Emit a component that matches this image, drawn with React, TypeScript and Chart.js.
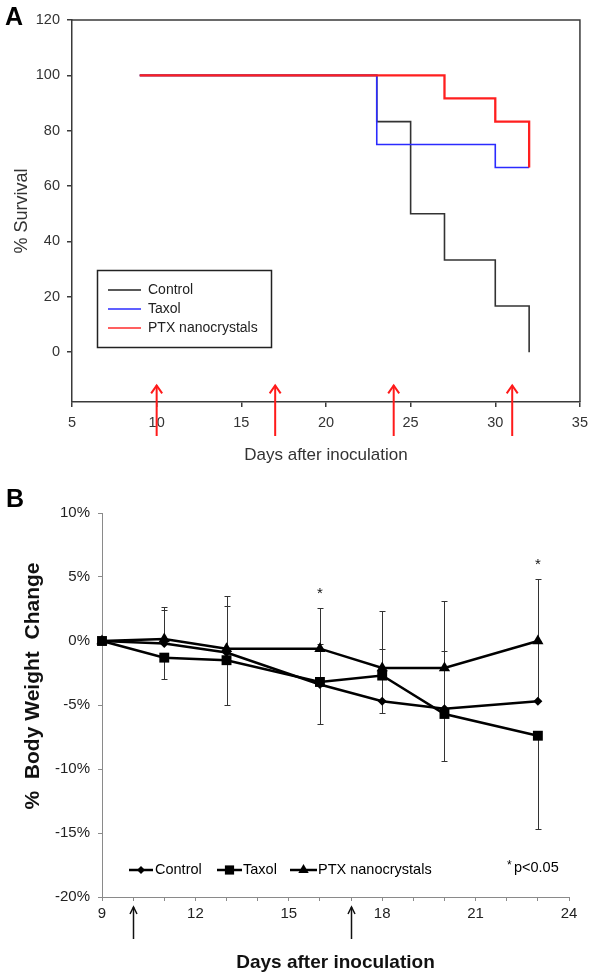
import React, { useEffect, useRef } from 'react';
import { Chart, registerables } from 'chart.js';

Chart.register(...registerables);

const FONT = '"Liberation Sans", Arial, Helvetica, sans-serif';

// ---------- Panel A : survival ----------
const survivalXTicks = [5, 10, 15, 20, 25, 30, 35];
const survivalYTicks = [0, 20, 40, 60, 80, 100, 120];
const controlDays = [9, 23, 25, 27, 30, 32];
const controlSurvival = [100, 83.3, 50, 33.3, 16.7, 0];
const taxolDays = [9, 23, 30, 32];
const taxolSurvival = [100, 75, 66.7, 66.7];
const ptxDays = [9, 27, 30, 32];
const ptxSurvival = [100, 91.7, 83.3, 66.7];
const dosingDaysA = [10, 17, 24, 31];
const legendLabelsA = ['Control', 'Taxol', 'PTX nanocrystals'];
const legendColorsA = ['#222222', '#2b2bff', '#ff2b2b'];

// ---------- Panel B : body weight ----------
const weightDays = [9, 11, 13, 16, 18, 20, 23];
const controlWeight = [0, -0.2, -0.9, -3.4, -4.7, -5.3, -4.7];
const taxolWeight = [0, -1.3, -1.5, -3.2, -2.7, -5.7, -7.4];
const ptxWeight = [0, 0.15, -0.6, -0.6, -2.1, -2.1, 0.0];
const controlErr = [0, 2.6, 3.65, 3.2, 4.1, 4.55, 4.7];
const taxolErr = [0, 1.7, 3.5, 3.3, 2.9, 3.7, 7.3];
const ptxErr = [0, 2.5, 4.1, 3.2, 4.45, 5.2, 4.85];
const weightYTicks = [-20, -15, -10, -5, 0, 5, 10];
const weightXTicks = [9, 10, 11, 12, 13, 14, 15, 16, 17, 18, 19, 20, 21, 22, 23, 24];
const weightXLabels = [9, 12, 15, 18, 21, 24];
const sigDays = [16, 23];
const dosingDaysB = [10, 17];

const SurvivalChart: React.FC = () => {
  const ref = useRef<HTMLCanvasElement | null>(null);
  useEffect(() => {
    if (!ref.current) return;
    const axisColor = '#3a3a3a';
    const framePlugin = {
      id: 'frameA',
      afterDraw(chart: any) {
        const { ctx, chartArea: a } = chart;
        ctx.save();
        ctx.strokeStyle = axisColor;
        ctx.lineWidth = 1.5;
        ctx.beginPath();
        ctx.moveTo(a.left, a.top);
        ctx.lineTo(a.right, a.top);
        ctx.lineTo(a.right, a.bottom);
        ctx.stroke();
        ctx.restore();
      },
    };
    const arrowsPlugin = {
      id: 'arrowsA',
      afterDraw(chart: any) {
        const { ctx, chartArea: a, scales } = chart;
        ctx.save();
        ctx.strokeStyle = '#ff1a1a';
        ctx.lineWidth = 2;
        dosingDaysA.forEach((d) => {
          const x = scales.x.getPixelForValue(d);
          const yTop = scales.y.getPixelForValue(-12);
          const yBot = a.bottom + 34;
          ctx.beginPath();
          ctx.moveTo(x, yBot);
          ctx.lineTo(x, yTop);
          ctx.stroke();
          ctx.beginPath();
          ctx.moveTo(x - 5.5, yTop + 8);
          ctx.lineTo(x, yTop);
          ctx.lineTo(x + 5.5, yTop + 8);
          ctx.stroke();
        });
        ctx.restore();
      },
    };
    const legendPlugin = {
      id: 'legendA',
      afterDraw(chart: any) {
        const { ctx } = chart;
        ctx.save();
        ctx.strokeStyle = '#222';
        ctx.lineWidth = 1.5;
        ctx.strokeRect(97.5, 270.5, 174, 77);
        ctx.font = `14px ${FONT}`;
        ctx.textBaseline = 'middle';
        ctx.fillStyle = '#222';
        legendLabelsA.forEach((lab, i) => {
          const y = 290 + i * 19;
          ctx.strokeStyle = legendColorsA[i];
          ctx.lineWidth = 1.5;
          ctx.beginPath();
          ctx.moveTo(108, y);
          ctx.lineTo(141, y);
          ctx.stroke();
          ctx.fillText(lab, 148, y);
        });
        ctx.restore();
      },
    };
    const toPts = (xs: number[], ys: number[]) => xs.map((x, i) => ({ x, y: ys[i] }));
    const chart = new Chart(ref.current, {
      type: 'line',
      data: {
        datasets: [
          { label: 'PTX nanocrystals', data: toPts(ptxDays, ptxSurvival), borderColor: '#ff1f1f', borderWidth: 2.3, stepped: true, pointRadius: 0, fill: false, clip: false },
          { label: 'Taxol', data: toPts(taxolDays, taxolSurvival), borderColor: '#2b2bff', borderWidth: 1.6, stepped: true, pointRadius: 0, fill: false, clip: false },
          { label: 'Control', data: toPts(controlDays, controlSurvival), borderColor: '#333333', borderWidth: 1.6, stepped: true, pointRadius: 0, fill: false, clip: false },
        ],
      },
      options: {
        animation: false,
        responsive: false,
        devicePixelRatio: 1,
        layout: { padding: { left: 0, right: 10, top: 20, bottom: 0 } },
        plugins: { legend: { display: false }, tooltip: { enabled: false } },
        scales: {
          x: {
            type: 'linear',
            min: 5,
            max: 35,
            afterBuildTicks: (s: any) => { s.ticks = survivalXTicks.map((v) => ({ value: v })); },
            afterFit: (s: any) => { s.height = 68; },
            grid: { drawOnChartArea: false, drawTicks: true, tickLength: 5, color: axisColor, lineWidth: 1.5 },
            border: { color: axisColor, width: 1.5 },
            ticks: { font: { family: FONT, size: 14.5 }, color: '#333', padding: 7, maxRotation: 0, autoSkip: false },
            title: { display: true, text: 'Days after inoculation', font: { family: FONT, size: 17 }, color: '#333', padding: { top: 0, bottom: 4 } },
          },
          y: {
            type: 'linear',
            min: -18,
            max: 120,
            afterBuildTicks: (s: any) => { s.ticks = survivalYTicks.map((v) => ({ value: v })); },
            afterFit: (s: any) => { s.width = 72; },
            grid: { drawOnChartArea: false, drawTicks: true, tickLength: 5, color: axisColor, lineWidth: 1.5 },
            border: { color: axisColor, width: 1.5 },
            ticks: { font: { family: FONT, size: 14.5 }, color: '#333', padding: 7, autoSkip: false },
            title: { display: true, text: '% Survival', font: { family: FONT, size: 18 }, color: '#333', padding: { top: 11, bottom: 0 } },
          },
        },
      },
      plugins: [framePlugin, arrowsPlugin, legendPlugin],
    } as any);
    return () => chart.destroy();
  }, []);
  return <canvas ref={ref} width={595} height={470} style={{ display: 'block', width: 595, height: 470 }} />;
};

const WeightChart: React.FC = () => {
  const ref = useRef<HTMLCanvasElement | null>(null);
  useEffect(() => {
    if (!ref.current) return;
    const axisColor = '#8a8a8a';
    const errorSeries = [
      { values: controlWeight, err: controlErr, dir: 1 },
      { values: taxolWeight, err: taxolErr, dir: -1 },
      { values: ptxWeight, err: ptxErr, dir: 1 },
    ];
    const errorPlugin = {
      id: 'errorBars',
      beforeDatasetsDraw(chart: any) {
        const { ctx, scales } = chart;
        ctx.save();
        ctx.strokeStyle = '#333';
        ctx.lineWidth = 1;
        errorSeries.forEach((s) => {
          weightDays.forEach((d, i) => {
            if (!s.err[i]) return;
            const x = Math.round(scales.x.getPixelForValue(d)) + 0.5;
            const y0 = scales.y.getPixelForValue(s.values[i]);
            const y1 = Math.round(scales.y.getPixelForValue(s.values[i] + s.dir * s.err[i])) + 0.5;
            ctx.beginPath();
            ctx.moveTo(x, y0);
            ctx.lineTo(x, y1);
            ctx.moveTo(x - 3, y1);
            ctx.lineTo(x + 3, y1);
            ctx.stroke();
          });
        });
        ctx.restore();
      },
    };
    const sigPlugin = {
      id: 'sig',
      afterDatasetsDraw(chart: any) {
        const { ctx, scales } = chart;
        ctx.save();
        ctx.fillStyle = '#111';
        ctx.font = `15px ${FONT}`;
        ctx.textAlign = 'center';
        ctx.textBaseline = 'alphabetic';
        sigDays.forEach((d) => {
          const i = weightDays.indexOf(d);
          const top = Math.max(ptxWeight[i] + ptxErr[i], controlWeight[i] + controlErr[i]);
          const x = scales.x.getPixelForValue(d);
          const y = scales.y.getPixelForValue(top) - 10;
          ctx.fillText('*', x, y);
        });
        ctx.restore();
      },
    };
    const arrowsPlugin = {
      id: 'arrowsB',
      afterDraw(chart: any) {
        const { ctx, chartArea: a, scales } = chart;
        ctx.save();
        ctx.strokeStyle = '#111';
        ctx.lineWidth = 1.5;
        dosingDaysB.forEach((d) => {
          const x = Math.round(scales.x.getPixelForValue(d)) + 0.5;
          const yTop = a.bottom + 10;
          const yBot = a.bottom + 42;
          ctx.beginPath();
          ctx.moveTo(x, yBot);
          ctx.lineTo(x, yTop);
          ctx.stroke();
          ctx.beginPath();
          ctx.moveTo(x - 3.5, yTop + 7);
          ctx.lineTo(x, yTop);
          ctx.lineTo(x + 3.5, yTop + 7);
          ctx.stroke();
        });
        ctx.restore();
      },
    };
    const yTitlePlugin = {
      id: 'yTitleB',
      afterDraw(chart: any) {
        const { ctx } = chart;
        ctx.save();
        ctx.translate(33, 216);
        ctx.rotate(-Math.PI / 2);
        ctx.font = `bold 21px ${FONT}`;
        ctx.fillStyle = '#111';
        ctx.textAlign = 'center';
        ctx.textBaseline = 'middle';
        ctx.fillText('%  Body Weight  Change', 0, 0);
        ctx.restore();
      },
    };
    const legendItems = [
      { label: 'Control', style: 'rectRot', r: 4, x0: 129, x1: 153, tx: 155 },
      { label: 'Taxol', style: 'rect', r: 6.5, x0: 217, x1: 242, tx: 243 },
      { label: 'PTX nanocrystals', style: 'triangle', r: 6, x0: 290, x1: 317, tx: 318 },
    ];
    const legendPlugin = {
      id: 'legendB',
      afterDraw(chart: any) {
        const { ctx } = chart;
        const y = 400;
        ctx.save();
        ctx.font = `14.5px ${FONT}`;
        ctx.textBaseline = 'middle';
        ctx.fillStyle = '#000';
        legendItems.forEach((it) => {
          ctx.strokeStyle = '#000';
          ctx.lineWidth = 2.5;
          ctx.beginPath();
          ctx.moveTo(it.x0, y);
          ctx.lineTo(it.x1, y);
          ctx.stroke();
          const cx = (it.x0 + it.x1) / 2;
          ctx.beginPath();
          if (it.style === 'rectRot') {
            ctx.moveTo(cx - it.r, y); ctx.lineTo(cx, y - it.r); ctx.lineTo(cx + it.r, y); ctx.lineTo(cx, y + it.r);
          } else if (it.style === 'rect') {
            const s = it.r * Math.SQRT1_2;
            ctx.rect(cx - s, y - s, 2 * s, 2 * s);
          } else {
            const r = it.r;
            ctx.moveTo(cx, y - r);
            ctx.lineTo(cx + r * Math.sin((2 * Math.PI) / 3), y - r * Math.cos((2 * Math.PI) / 3));
            ctx.lineTo(cx + r * Math.sin((4 * Math.PI) / 3), y - r * Math.cos((4 * Math.PI) / 3));
          }
          ctx.closePath();
          ctx.fill();
          ctx.fillText(it.label, it.tx, y);
        });
        ctx.font = `12px ${FONT}`;
        ctx.fillText('*', 507, y - 4);
        ctx.font = `14.5px ${FONT}`;
        ctx.fillText('p<0.05', 514, y - 2);
        ctx.restore();
      },
    };
    const mk = (label: string, values: number[], style: string, r: number) => ({
      label,
      data: weightDays.map((d, i) => ({ x: d, y: values[i] })),
      borderColor: '#000',
      backgroundColor: '#000',
      borderWidth: 2.5,
      pointStyle: style,
      pointRadius: r,
      pointBorderWidth: 0,
      pointBackgroundColor: '#000',
      fill: false,
      tension: 0,
      clip: false,
    });
    const chart = new Chart(ref.current, {
      type: 'line',
      data: {
        datasets: [
          mk('Control', controlWeight, 'rectRot', 4.5),
          mk('Taxol', taxolWeight, 'rect', 7),
          mk('PTX nanocrystals', ptxWeight, 'triangle', 6.5),
        ],
      },
      options: {
        animation: false,
        responsive: false,
        devicePixelRatio: 1,
        layout: { padding: { left: 0, right: 26, top: 43, bottom: 0 } },
        plugins: { legend: { display: false }, tooltip: { enabled: false } },
        scales: {
          x: {
            type: 'linear',
            min: 9,
            max: 24,
            afterBuildTicks: (s: any) => { s.ticks = weightXTicks.map((v) => ({ value: v })); },
            afterFit: (s: any) => { s.height = 77; },
            grid: { drawOnChartArea: false, drawTicks: true, tickLength: 4, color: axisColor, lineWidth: 1 },
            border: { color: axisColor, width: 1 },
            ticks: {
              font: { family: FONT, size: 15 },
              color: '#222',
              padding: 4,
              maxRotation: 0,
              autoSkip: false,
              callback: (v: any) => (weightXLabels.includes(Number(v)) ? String(v) : ''),
            },
            title: { display: true, text: 'Days after inoculation', font: { family: FONT, size: 19, weight: 'bold' }, color: '#111', padding: { top: 0, bottom: 0 } },
          },
          y: {
            type: 'linear',
            min: -20,
            max: 10,
            afterBuildTicks: (s: any) => { s.ticks = weightYTicks.map((v) => ({ value: v })); },
            afterFit: (s: any) => { s.width = 102; },
            grid: { drawOnChartArea: false, drawTicks: true, tickLength: 4, color: axisColor, lineWidth: 1 },
            border: { color: axisColor, width: 1 },
            ticks: { font: { family: FONT, size: 15 }, color: '#222', padding: 8, autoSkip: false, callback: (v: any) => `${v}%` },
            title: { display: false },
          },
        },
      },
      plugins: [errorPlugin, sigPlugin, arrowsPlugin, legendPlugin, yTitlePlugin],
    } as any);
    return () => chart.destroy();
  }, []);
  return <canvas ref={ref} width={595} height={504} style={{ display: 'block', width: 595, height: 504 }} />;
};

export default function App() {
  const letter: React.CSSProperties = {
    position: 'absolute',
    fontFamily: FONT,
    fontWeight: 'bold',
    fontSize: 25,
    lineHeight: '25px',
    color: '#000',
  };
  return (
    <div style={{ position: 'absolute', left: 0, top: 0, width: 595, height: 974, background: '#fff' }}>
      <div style={{ position: 'absolute', left: 0, top: 0 }}>
        <SurvivalChart />
      </div>
      <div style={{ position: 'absolute', left: 0, top: 470 }}>
        <WeightChart />
      </div>
      <div style={{ ...letter, left: 5, top: 4 }}>A</div>
      <div style={{ ...letter, left: 6, top: 486 }}>B</div>
    </div>
  );
}
